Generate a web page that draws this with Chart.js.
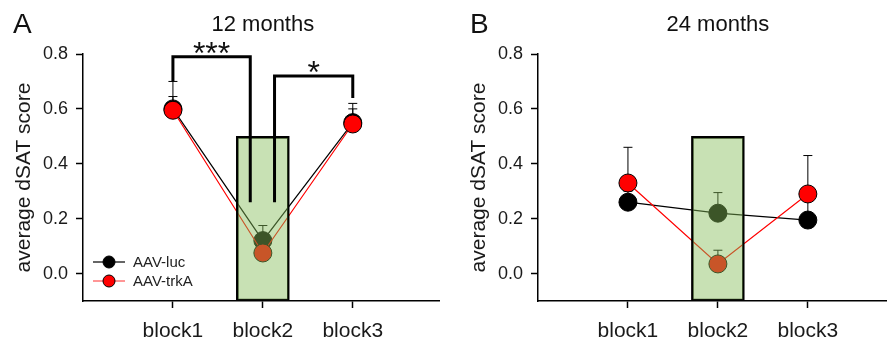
<!DOCTYPE html>
<html>
<head>
<meta charset="utf-8">
<script src="https://cdn.jsdelivr.net/npm/chart.js@4.4.1/dist/chart.umd.min.js"></script>
<style>
  html, body { margin: 0; padding: 0; background: #fff; }
  #wrap { position: relative; width: 887px; height: 345px; }
  .panel { position: absolute; top: 0; height: 345px; }
  #pa { left: 0; width: 440px; }
  #pb { left: 440px; width: 447px; }
</style>
</head>
<body>
<div id="wrap">
  <div class="panel" id="pa"><canvas id="ca"></canvas></div>
  <div class="panel" id="pb"><canvas id="cb"></canvas></div>
</div>
<script>
const FONT = "'Liberation Sans', Arial, sans-serif";

const blocks = ["block1", "block2", "block3"];
const blockPos = [1, 2, 3];
const yTicks = [0, 0.2, 0.4, 0.6, 0.8];
const boxRange = [-0.1, 0.5];   // shaded block2 box

// 12 months
const lucA = [0.60, 0.12, 0.55];
const lucErrA = [0.645, 0.175, 0.60];
const trkA = [0.595, 0.075, 0.545];
const trkErrA = [0.70, 0.10, 0.62];

// 24 months
const lucB = [0.26, 0.22, 0.195];
const lucErrB = [0.30, 0.295, 0.27];
const trkB = [0.33, 0.035, 0.29];
const trkErrB = [0.46, 0.085, 0.43];

// significance brackets (12 months only)
const br1X = [1, 1, 1.86, 1.86];
const br1Y = [0.70, 0.79, 0.79, 0.26];
const br2X = [2.13, 2.13, 3, 3];
const br2Y = [0.26, 0.72, 0.72, 0.64];
const stars = ["***", "*"];

const pts = (xs, ys) => xs.map((x, i) => ({ x: x, y: ys[i] }));

function makePanel(canvasId, cfg) {
  const datasets = [
    {
      type: "bar",
      data: [{ x: 2, y: boxRange }],
      backgroundColor: "rgba(133,189,89,0.45)",
      borderColor: "#000",
      borderWidth: 2,
      borderSkipped: false,
      barThickness: 53,
      order: 0
    },
    {
      label: "AAV-trkA",
      data: pts(blockPos, cfg.trk),
      borderColor: "#ff0000",
      borderWidth: 1.2,
      pointRadius: 9,
      pointBackgroundColor: "#ff0000",
      pointBorderColor: "#000",
      pointBorderWidth: 1,
      order: 1
    },
    {
      label: "AAV-luc",
      data: pts(blockPos, cfg.luc),
      borderColor: "#000",
      borderWidth: 1.2,
      pointRadius: 9,
      pointBackgroundColor: "#000",
      pointBorderColor: "#000",
      pointBorderWidth: 1,
      order: 2
    }
  ];

  (cfg.brackets || []).forEach(b => {
    datasets.push({
      data: pts(b.x, b.y),
      borderColor: "#000",
      borderWidth: 3,
      borderJoinStyle: "miter",
      pointRadius: 0,
      order: -1
    });
  });

  const errorBars = {
    id: "errorBars",
    beforeDatasetsDraw(chart) {
      const { ctx, scales: { x, y } } = chart;
      ctx.save();
      ctx.strokeStyle = "#000";
      ctx.lineWidth = 1;
      [[cfg.luc, cfg.lucErr], [cfg.trk, cfg.trkErr]].forEach(([vals, errs]) => {
        vals.forEach((v, i) => {
          const px = x.getPixelForValue(blockPos[i]);
          const y0 = y.getPixelForValue(v);
          const y1 = y.getPixelForValue(errs[i]);
          ctx.beginPath();
          ctx.moveTo(px, y0);
          ctx.lineTo(px, y1);
          ctx.moveTo(px - 4.5, y1);
          ctx.lineTo(px + 4.5, y1);
          ctx.stroke();
        });
      });
      ctx.restore();
    }
  };

  const decorations = {
    id: "decorations",
    afterDraw(chart) {
      const { ctx, chartArea, scales: { x, y } } = chart;
      ctx.save();
      ctx.fillStyle = "#111";
      // panel letter + title
      ctx.textBaseline = "alphabetic";
      ctx.textAlign = "left";
      ctx.font = "28px " + FONT;
      ctx.fillText(cfg.letter, cfg.letterX, 33);
      ctx.textAlign = "center";
      ctx.font = "22px " + FONT;
      ctx.fillText(cfg.title, x.getPixelForValue(2), 31);

      // significance stars
      ctx.font = "32px " + FONT;
      (cfg.brackets || []).forEach(b => {
        const mx = x.getPixelForValue((b.x[1] + b.x[2]) / 2);
        const my = y.getPixelForValue(b.y[1]);
        ctx.fillText(b.label, mx, my + 7);
      });

      // legend
      if (cfg.legend) {
        const items = [
          { text: "AAV-luc", line: "#000", fill: "#000" },
          { text: "AAV-trkA", line: "#ff5050", fill: "#ff0000" }
        ];
        ctx.textAlign = "left";
        ctx.textBaseline = "middle";
        ctx.font = "15px " + FONT;
        items.forEach((it, i) => {
          const ly = chartArea.bottom - 39 + i * 19;
          const lx = chartArea.left + 10;
          ctx.strokeStyle = it.line;
          ctx.lineWidth = 1.2;
          ctx.beginPath();
          ctx.moveTo(lx, ly);
          ctx.lineTo(lx + 32, ly);
          ctx.stroke();
          ctx.beginPath();
          ctx.arc(lx + 16, ly, 6, 0, Math.PI * 2);
          ctx.fillStyle = it.fill;
          ctx.fill();
          ctx.strokeStyle = "#000";
          ctx.lineWidth = 1;
          ctx.stroke();
          ctx.fillStyle = "#222";
          ctx.fillText(it.text, lx + 40, ly + 1);
        });
      }
      ctx.restore();
    }
  };

  return new Chart(document.getElementById(canvasId), {
    type: "line",
    data: { datasets: datasets },
    options: {
      responsive: true,
      maintainAspectRatio: false,
      animation: false,
      devicePixelRatio: 1,
      layout: { autoPadding: false, padding: { top: 54, left: 0, right: 0, bottom: 0 } },
      plugins: { legend: { display: false }, tooltip: { enabled: false } },
      scales: {
        x: {
          type: "linear",
          min: 0,
          max: cfg.xMax,
          offset: false,
          afterBuildTicks: s => { s.ticks = blockPos.map(v => ({ value: v })); },
          afterFit: s => {
            s.height = 44;
            s.paddingLeft = 0;
            s.paddingRight = 0;
          },
          ticks: {
            callback: (v, i) => blocks[i],
            color: "#1a1a1a",
            font: { family: FONT, size: 21 },
            padding: 11,
            maxRotation: 0,
            autoSkip: false,
            align: "center"
          },
          grid: { offset: false, drawOnChartArea: false, drawTicks: true, tickLength: 7, tickColor: "#000", tickWidth: 1.5 },
          border: { color: "#000", width: 1.5 }
        },
        y: {
          min: -0.1,
          max: 0.8,
          afterBuildTicks: s => { s.ticks = yTicks.map(v => ({ value: v })); },
          afterFit: s => {
            s.width = cfg.yAxisWidth;
            s.paddingTop = 0;
            s.paddingBottom = 0;
          },
          ticks: {
            callback: v => v.toFixed(1),
            color: "#1a1a1a",
            font: { family: FONT, size: 18 },
            padding: 8
          },
          grid: { offset: false, drawOnChartArea: false, drawTicks: true, tickLength: 7, tickColor: "#000", tickWidth: 1.5 },
          border: { color: "#000", width: 1.5 },
          title: {
            display: true,
            text: "average dSAT score",
            color: "#1a1a1a",
            font: { family: FONT, size: 21 },
            padding: { top: cfg.yTitlePad, bottom: 0 }
          }
        }
      }
    },
    plugins: [errorBars, decorations]
  });
}

makePanel("ca", {
  letter: "A", letterX: 13, title: "12 months",
  luc: lucA, lucErr: lucErrA, trk: trkA, trkErr: trkErrA,
  xMax: 3.97, yAxisWidth: 83, yTitlePad: 12, legend: true,
  brackets: [
    { x: br1X, y: br1Y, label: stars[0] },
    { x: br2X, y: br2Y, label: stars[1] }
  ]
});

makePanel("cb", {
  letter: "B", letterX: 30, title: "24 months",
  luc: lucB, lucErr: lucErrB, trk: trkB, trkErr: trkErrB,
  xMax: 3.88, yAxisWidth: 98, yTitlePad: 27, legend: false
});
</script>
</body>
</html>
